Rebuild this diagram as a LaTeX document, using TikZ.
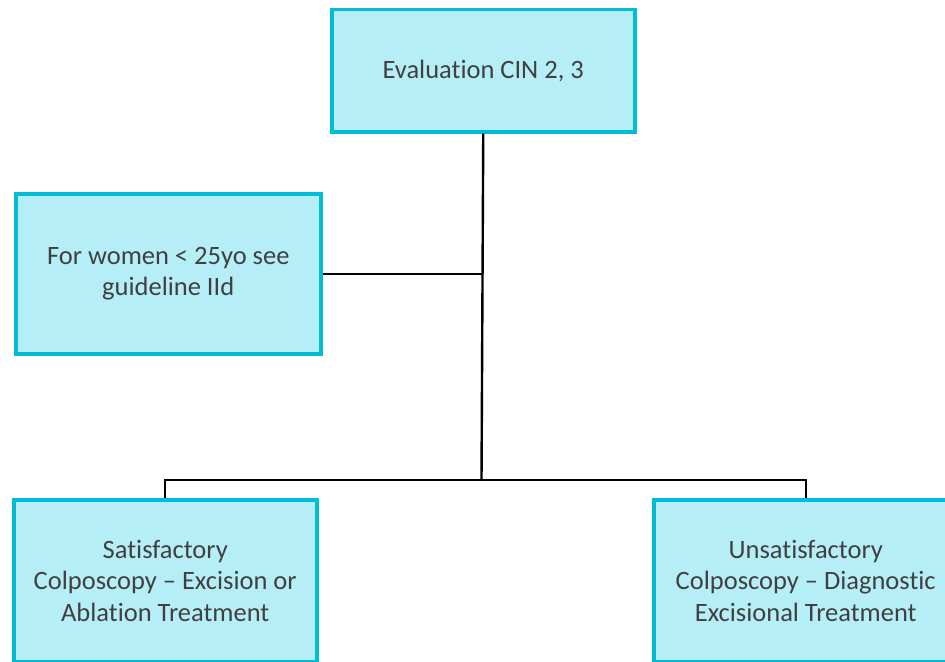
\documentclass[tikz,border=0pt]{standalone}
\usepackage{fontspec}
\setmainfont{Carlito}[Ligatures=NoCommon]
\definecolor{boxfill}{HTML}{B6EEF7}
\definecolor{boxline}{HTML}{00BCD6}
\definecolor{txt}{HTML}{404040}
\begin{document}
\begin{tikzpicture}[x=1bp,y=-1bp,
  box/.style={draw=boxline,line width=3.5bp,fill=boxfill,text=txt,align=center,
    font=\fontsize{26.5bp}{31.5bp}\selectfont,inner sep=0pt,anchor=north west},
  conn/.style={draw=black,line width=2.4bp}]
\useasboundingbox (0,0) rectangle (945,662);
\node[box,minimum width=303bp,minimum height=122bp] (top) at (330,8) {Evaluation CIN 2, 3};
\node[box,minimum width=305bp,minimum height=160bp] (left) at (14,192) {For women < 25yo see\\guideline IId};
\node[box,minimum width=303bp,minimum height=162bp] (bl) at (12,498) {Satisfactory\\Colposcopy – Excision or\\Ablation Treatment};
\node[box,minimum width=304bp,minimum height=162bp] (br) at (652,498) {Unsatisfactory\\Colposcopy – Diagnostic\\Excisional Treatment};
\coordinate (j1) at (left.east -| top.south);
\coordinate (j2) at (481.5,480);
\draw[conn] (top.south) -- (j2);
\draw[conn] (left.east) -- (j1);
\draw[conn] (bl.north) |- (j2) -| (br.north);
\end{tikzpicture}
\end{document}
